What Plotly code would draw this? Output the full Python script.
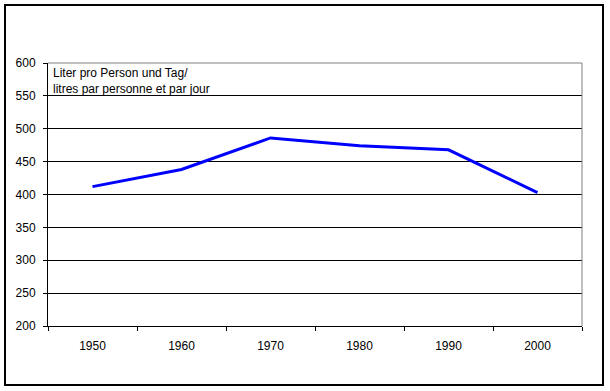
import plotly.graph_objects as go

years = ["1950", "1960", "1970", "1980", "1990", "2000"]
litres = [412, 438, 486, 474, 468, 403]
y_ticks = [200, 250, 300, 350, 400, 450, 500, 550, 600]
label_text = "Liter pro Person und Tag/<br>litres par personne et par jour"

W, H = 610, 391
L, R, T, B = 48, 582, 63, 326
pw, ph = R - L, B - T

font = dict(family="Liberation Sans, Arial, sans-serif", size=12, color="black")

fig = go.Figure()
fig.add_trace(go.Scatter(x=years, y=litres, mode="lines",
                         line=dict(color="#0000FF", width=3), showlegend=False,
                         hoverinfo="skip"))

fig.update_layout(
    width=W, height=H,
    margin=dict(l=L, r=W - R, t=T, b=H - B, pad=0),
    paper_bgcolor="white", plot_bgcolor="white",
    font=font,
    xaxis=dict(type="category", range=[-0.5, 5.5], tickson="boundaries",
               ticks="outside", ticklen=4, tickcolor="black", showline=True,
               linecolor="black", linewidth=1, showgrid=False, zeroline=False,
               ticklabelstandoff=9, fixedrange=True),
    yaxis=dict(range=[200, 600], tickvals=y_ticks, ticks="outside", ticklen=4,
               tickcolor="black", showline=True, linecolor="black", linewidth=1,
               showgrid=True, gridcolor="black", gridwidth=1, zeroline=False,
               ticklabelstandoff=5, fixedrange=True),
    shapes=[
        # outer chart border
        dict(type="rect", xref="paper", yref="paper",
             x0=(5 - L) / pw, x1=(603 - L) / pw,
             y0=(B - 385) / ph, y1=(B - 5) / ph,
             line=dict(color="black", width=2), layer="below"),
        # plot area border (top/right gray)
        dict(type="line", xref="paper", yref="paper", x0=0, x1=1, y0=1, y1=1,
             line=dict(color="#808080", width=1), layer="above"),
        dict(type="line", xref="paper", yref="paper", x0=1, x1=1, y0=0, y1=1,
             line=dict(color="#808080", width=1), layer="above"),
    ],
    annotations=[
        dict(text=label_text, xref="paper", yref="paper", x=3 / pw, y=1 - 1 / ph,
             xanchor="left", yanchor="top", align="left", showarrow=False,
             font=font),
    ],
)

fig.write_html("out.html")
